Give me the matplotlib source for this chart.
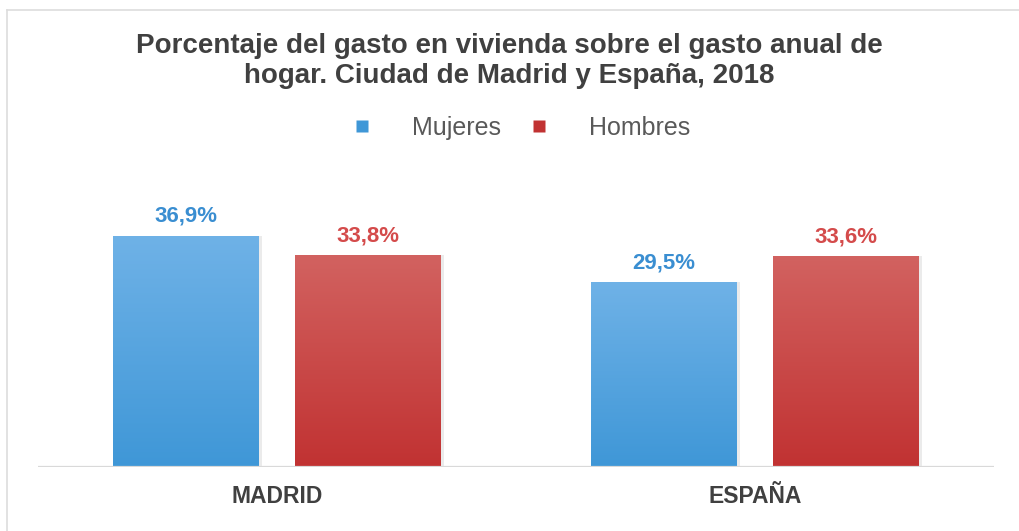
import numpy as np
import matplotlib
matplotlib.use('Agg')
import matplotlib.pyplot as plt
from matplotlib.colors import LinearSegmentedColormap
from matplotlib.lines import Line2D

# --- Data ---
categories = ['MADRID', 'ESPAÑA']
series_names = ['Mujeres', 'Hombres']
mujeres = [36.9, 29.5]
hombres = [33.8, 33.6]
value_labels_m = ['36,9%', '29,5%']
value_labels_h = ['33,8%', '33,6%']
title = 'Porcentaje del gasto en vivienda sobre el gasto anual de\nhogar. Ciudad de Madrid y España, 2018'

# --- Styles ---
blue_top, blue_bottom = '#6FB2E7', '#3F97D7'
red_top, red_bottom = '#D26260', '#C13232'
blue_text, red_text = '#3A8ED1', '#D44B4B'
text_gray = '#404040'

plt.rcParams['font.family'] = ['Liberation Sans', 'DejaVu Sans']

fig = plt.figure(figsize=(10.19, 5.31), dpi=100)
ax = fig.add_axes([38 / 1019, 1 - 467 / 531, (994 - 38) / 1019, (467 - 185) / 531])

x = np.arange(len(categories))
width = 0.305
offset = 0.19


def gradient_bars(xpos, values, top, bottom):
    cmap = LinearSegmentedColormap.from_list('g', [bottom, top])
    grad = np.linspace(0, 1, 256).reshape(-1, 1)
    # soft shadow behind each bar
    ax.bar(xpos + 0.006, values, width, color='#000000', alpha=0.08, zorder=1, linewidth=0)
    bars = ax.bar(xpos, values, width, facecolor='none', edgecolor='none', zorder=2)
    for patch in bars:
        x0, y0 = patch.get_x(), patch.get_y()
        w, h = patch.get_width(), patch.get_height()
        im = ax.imshow(grad, extent=[x0, x0 + w, y0, y0 + h], origin='lower',
                       aspect='auto', cmap=cmap, zorder=2)
        im.set_clip_path(patch)
    return bars


bars_m = gradient_bars(x - offset, mujeres, blue_top, blue_bottom)
bars_h = gradient_bars(x + offset, hombres, red_top, red_bottom)

for i in range(len(categories)):
    ax.text(x[i] - offset, mujeres[i] + 1.4, value_labels_m[i], ha='center', va='bottom',
            fontsize=16, fontweight='bold', color=blue_text)
    ax.text(x[i] + offset, hombres[i] + 1.4, value_labels_h[i], ha='center', va='bottom',
            fontsize=16, fontweight='bold', color=red_text)

ax.set_xlim(-0.5, len(categories) - 0.5)
ax.set_ylim(0, 45)
ax.axhline(0, color='#D9D9D9', linewidth=1.6, zorder=3)

ax.set_xticks(x)
ax.set_xticklabels(categories, fontsize=16.5, fontweight='bold', color=text_gray)
ax.tick_params(axis='x', length=0, pad=13)
ax.set_yticks([])
for s in ax.spines.values():
    s.set_visible(False)

fig.text(0.5, 1 - 61 / 531, title, ha='center', va='center', fontsize=20,
         fontweight='bold', color=text_gray, linespacing=1.2)

handles = [Line2D([], [], marker='s', linestyle='none', markersize=9,
                  markerfacecolor=c, markeredgecolor='none')
           for c in (blue_bottom, red_bottom)]
fig.legend(handles, series_names, loc='center', bbox_to_anchor=(0.51, 1 - 128 / 531),
           ncol=2, frameon=False, fontsize=18, labelcolor='#595959',
           handlelength=1.0, handletextpad=1.5, columnspacing=1.0)

# light frame lines at the top and left, as in the screenshot
fig.add_artist(Line2D([7 / 1019, 1], [1 - 10 / 531, 1 - 10 / 531],
                      transform=fig.transFigure, color='#DDDDDD', linewidth=1.2))
fig.add_artist(Line2D([7 / 1019, 7 / 1019], [0, 1 - 10 / 531],
                      transform=fig.transFigure, color='#DDDDDD', linewidth=1.2))

fig.savefig('out.png', dpi=100)
plt.close(fig)
